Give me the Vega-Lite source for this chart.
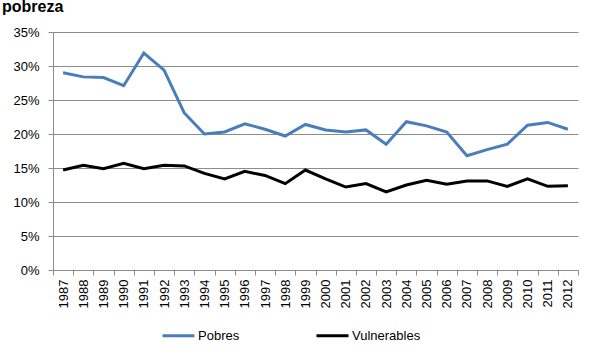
{
  "$schema": "https://vega.github.io/schema/vega-lite/v6.json",
  "width": 525,
  "height": 238,
  "autosize": {"type": "none"},
  "padding": {"left": 53, "top": 32, "right": 25, "bottom": 84},
  "background": "white",
  "title": {"text": "pobreza", "anchor": "start", "frame": "group", "dx": -51, "dy": 14, "offset": 12, "baseline": "alphabetic", "fontSize": 16, "font": "Liberation Sans", "fontWeight": "bold", "color": "#000000"},
  "config": {"view": {"stroke": null}, "font": "Liberation Sans"},
  "data": {"values": [
    {"year": "1987", "serie": "Pobres", "value": 29.0},
    {"year": "1988", "serie": "Pobres", "value": 28.4},
    {"year": "1989", "serie": "Pobres", "value": 28.3},
    {"year": "1990", "serie": "Pobres", "value": 27.1},
    {"year": "1991", "serie": "Pobres", "value": 31.9},
    {"year": "1992", "serie": "Pobres", "value": 29.4},
    {"year": "1993", "serie": "Pobres", "value": 23.1},
    {"year": "1994", "serie": "Pobres", "value": 20.0},
    {"year": "1995", "serie": "Pobres", "value": 20.3},
    {"year": "1996", "serie": "Pobres", "value": 21.5},
    {"year": "1997", "serie": "Pobres", "value": 20.7},
    {"year": "1998", "serie": "Pobres", "value": 19.7},
    {"year": "1999", "serie": "Pobres", "value": 21.4},
    {"year": "2000", "serie": "Pobres", "value": 20.6},
    {"year": "2001", "serie": "Pobres", "value": 20.3},
    {"year": "2002", "serie": "Pobres", "value": 20.6},
    {"year": "2003", "serie": "Pobres", "value": 18.5},
    {"year": "2004", "serie": "Pobres", "value": 21.8},
    {"year": "2005", "serie": "Pobres", "value": 21.2},
    {"year": "2006", "serie": "Pobres", "value": 20.3},
    {"year": "2007", "serie": "Pobres", "value": 16.8},
    {"year": "2008", "serie": "Pobres", "value": 17.7},
    {"year": "2009", "serie": "Pobres", "value": 18.5},
    {"year": "2010", "serie": "Pobres", "value": 21.3},
    {"year": "2011", "serie": "Pobres", "value": 21.7},
    {"year": "2012", "serie": "Pobres", "value": 20.7},
    {"year": "1987", "serie": "Vulnerables", "value": 14.7},
    {"year": "1988", "serie": "Vulnerables", "value": 15.4},
    {"year": "1989", "serie": "Vulnerables", "value": 14.9},
    {"year": "1990", "serie": "Vulnerables", "value": 15.7},
    {"year": "1991", "serie": "Vulnerables", "value": 14.9},
    {"year": "1992", "serie": "Vulnerables", "value": 15.4},
    {"year": "1993", "serie": "Vulnerables", "value": 15.3},
    {"year": "1994", "serie": "Vulnerables", "value": 14.2},
    {"year": "1995", "serie": "Vulnerables", "value": 13.4},
    {"year": "1996", "serie": "Vulnerables", "value": 14.5},
    {"year": "1997", "serie": "Vulnerables", "value": 13.9},
    {"year": "1998", "serie": "Vulnerables", "value": 12.7},
    {"year": "1999", "serie": "Vulnerables", "value": 14.7},
    {"year": "2000", "serie": "Vulnerables", "value": 13.4},
    {"year": "2001", "serie": "Vulnerables", "value": 12.2},
    {"year": "2002", "serie": "Vulnerables", "value": 12.7},
    {"year": "2003", "serie": "Vulnerables", "value": 11.5},
    {"year": "2004", "serie": "Vulnerables", "value": 12.5},
    {"year": "2005", "serie": "Vulnerables", "value": 13.2},
    {"year": "2006", "serie": "Vulnerables", "value": 12.6},
    {"year": "2007", "serie": "Vulnerables", "value": 13.1},
    {"year": "2008", "serie": "Vulnerables", "value": 13.1},
    {"year": "2009", "serie": "Vulnerables", "value": 12.3},
    {"year": "2010", "serie": "Vulnerables", "value": 13.4},
    {"year": "2011", "serie": "Vulnerables", "value": 12.3},
    {"year": "2012", "serie": "Vulnerables", "value": 12.4}
  ]},
  "mark": {"type": "line", "strokeWidth": 3},
  "encoding": {
    "x": {
      "field": "year", "type": "ordinal", "bandPosition": 0.5,
      "scale": {"type": "band", "paddingInner": 0, "paddingOuter": 0},
      "axis": {"title": null, "labelAngle": -90, "labelFontSize": 13, "labelColor": "#000000", "labelPadding": 4, "tickBand": "extent", "tickSize": 5, "tickColor": "#8c8c8c", "domainColor": "#8c8c8c", "grid": false}
    },
    "y": {
      "field": "value", "type": "quantitative",
      "scale": {"domain": [0, 35], "nice": false},
      "axis": {"title": null, "values": [0, 5, 10, 15, 20, 25, 30, 35], "labelExpr": "datum.value + '%'", "labelFontSize": 13, "labelColor": "#000000", "labelPadding": 9, "tickSize": 5, "tickColor": "#8c8c8c", "domainColor": "#8c8c8c", "gridColor": "#8c8c8c", "gridOpacity": 1}
    },
    "color": {
      "field": "serie", "type": "nominal",
      "scale": {"domain": ["Pobres", "Vulnerables"], "range": ["#4a7ebb", "#000000"]},
      "legend": {"title": null, "orient": "none", "direction": "horizontal", "legendX": 108, "legendY": 286, "symbolType": "stroke", "symbolSize": 1024, "symbolStrokeWidth": 3, "labelFontSize": 13, "labelColor": "#000000", "labelOffset": 2, "columnPadding": 70}
    }
  }
}
